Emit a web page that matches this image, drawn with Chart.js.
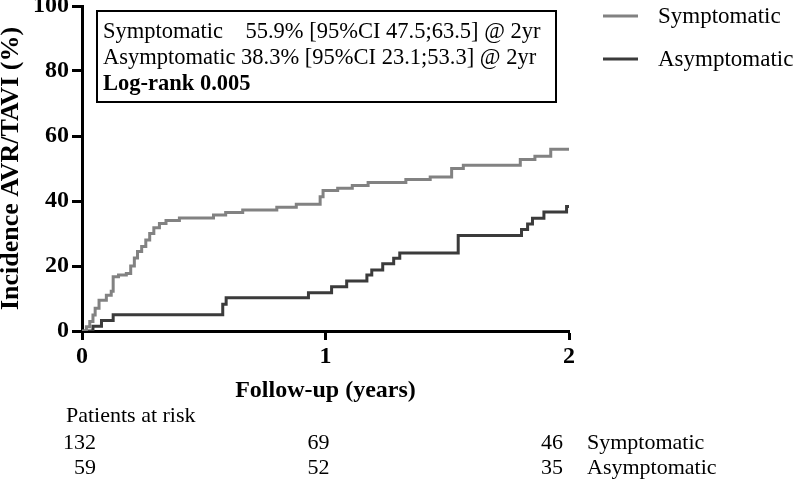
<!DOCTYPE html>
<html><head><meta charset="utf-8">
<script src="https://cdn.jsdelivr.net/npm/chart.js@4.4.0/dist/chart.umd.min.js"></script>
<style>html,body{margin:0;padding:0;background:#fff}canvas{display:block}</style>
</head><body>
<canvas id="c" width="793" height="480"></canvas>
<script>
// ---- data ----
const seriesNames = ['Symptomatic', 'Asymptomatic'];
const symTimes  = [0, 0.018, 0.032, 0.045, 0.054, 0.07, 0.10, 0.12, 0.128, 0.150, 0.182, 0.20, 0.215, 0.228, 0.245, 0.262, 0.278, 0.295, 0.318, 0.345, 0.40, 0.54, 0.59, 0.66, 0.80, 0.88, 0.978, 0.99, 1.05, 1.11, 1.175, 1.33, 1.43, 1.518, 1.566, 1.80, 1.86, 1.925, 2.0];
const symValues = [0, 1.3, 2.9, 4.9, 7.0, 9.5, 11.0, 12.2, 16.7, 17.2, 17.7, 20.0, 22.5, 24.5, 26.0, 28.0, 30.0, 31.8, 33.1, 34.0, 34.8, 35.7, 36.5, 37.2, 38.1, 39.0, 41.3, 43.2, 43.9, 44.8, 45.7, 46.6, 47.4, 50.0, 51.0, 52.8, 53.8, 55.9, 55.9];
const asymTimes  = [0, 0.045, 0.08, 0.128, 0.578, 0.592, 0.93, 1.025, 1.087, 1.17, 1.19, 1.235, 1.28, 1.305, 1.545, 1.805, 1.83, 1.85, 1.897, 1.99, 2.0];
const asymValues = [0, 1.5, 3.2, 5.0, 8.2, 10.2, 11.8, 13.6, 15.4, 17.2, 18.8, 20.7, 22.4, 24.0, 29.4, 31.2, 32.9, 34.7, 36.6, 38.3, 38.3];
const xTicks = [0, 1, 2];
const yTicks = [0, 20, 40, 60, 80, 100];
const atRiskTimes = [0, 1, 2];
const atRiskSym  = [132, 69, 46];
const atRiskAsym = [59, 52, 35];
const summaryLines = ['Symptomatic    55.9% [95%CI 47.5;63.5] @ 2yr', 'Asymptomatic 38.3% [95%CI 23.1;53.3] @ 2yr'];
const logRankText = 'Log-rank 0.005';
const atRiskTitle = 'Patients at risk';
const xTitle = 'Follow-up (years)';
const yTitle = 'Incidence AVR/TAVI (%)';

// ---- styles ----
const SERIF = "'Liberation Serif', 'Times New Roman', serif";
const colors = ['#828282', '#3b3b3b'];

const toPts = (ts, vs) => ts.map((t, i) => ({x: t, y: vs[i]}));

const overlay = {
  id: 'overlay',
  afterDraw(chart) {
    const ctx = chart.ctx;
    const xs = chart.scales.x;
    ctx.save();
    // summary box
    ctx.strokeStyle = '#000';
    ctx.lineWidth = 2;
    ctx.strokeRect(97, 11, 459, 91);
    ctx.fillStyle = '#000';
    ctx.textAlign = 'left';
    ctx.textBaseline = 'alphabetic';
    ctx.font = '22.5px ' + SERIF;
    ctx.fillText(summaryLines[0], 103, 38);
    ctx.fillText(summaryLines[1], 103, 64);
    ctx.font = 'bold 22.5px ' + SERIF;
    ctx.fillText(logRankText, 103, 90);

    // legend
    chart.data.datasets.forEach((ds, i) => {
      const y = 16 + i * 43;
      ctx.strokeStyle = ds.borderColor;
      ctx.lineWidth = 3;
      ctx.beginPath();
      ctx.moveTo(603, y);
      ctx.lineTo(638, y);
      ctx.stroke();
      ctx.fillStyle = '#000';
      ctx.font = '23px ' + SERIF;
      ctx.textAlign = 'left';
      ctx.fillText(ds.label, 658, y + 7);
    });

    // patients at risk
    ctx.fillStyle = '#000';
    ctx.font = '22px ' + SERIF;
    ctx.textAlign = 'left';
    ctx.fillText(atRiskTitle, 66, 422);
    const offs = [14, 4, -6];
    const rows = [atRiskSym, atRiskAsym];
    rows.forEach((row, r) => {
      const yb = 449 + r * 25;
      ctx.textAlign = 'right';
      atRiskTimes.forEach((t, i) => {
        ctx.fillText(String(row[i]), xs.getPixelForValue(t) + offs[i], yb);
      });
      ctx.textAlign = 'left';
      ctx.fillText(seriesNames[r], xs.getPixelForValue(atRiskTimes[atRiskTimes.length - 1]) + 18, yb);
    });
    ctx.restore();
  }
};

new Chart(document.getElementById('c'), {
  type: 'scatter',
  data: {
    datasets: [
      {label: seriesNames[0], data: toPts(symTimes, symValues), showLine: true, stepped: true,
       borderColor: colors[0], backgroundColor: colors[0], borderWidth: 3, pointRadius: 0, fill: false},
      {label: seriesNames[1], data: toPts(asymTimes, asymValues), showLine: true, stepped: true,
       borderColor: colors[1], backgroundColor: colors[1], borderWidth: 3, pointRadius: 0, fill: false}
    ]
  },
  options: {
    responsive: false,
    animation: false,
    devicePixelRatio: 1,
    layout: {padding: {left: 0, top: 6, right: 224, bottom: 0}},
    plugins: {legend: {display: false}, tooltip: {enabled: false}},
    scales: {
      x: {
        type: 'linear', min: 0, max: 2,
        afterBuildTicks: s => { s.ticks = xTicks.map(v => ({value: v})); },
        afterFit: s => { s.height = 149; s.paddingLeft = 0; s.paddingRight = 0; },
        grid: {drawOnChartArea: false, drawTicks: true, tickLength: 9, tickWidth: 3, tickColor: '#000'},
        border: {display: true, color: '#000', width: 3},
        ticks: {color: '#000', padding: 2, font: {family: SERIF, size: 24, weight: 'bold'}, maxRotation: 0},
        title: {display: true, text: xTitle, color: '#000', font: {family: SERIF, size: 24, weight: 'bold', lineHeight: 1.2}, padding: {top: 0, bottom: 75}}
      },
      y: {
        type: 'linear', min: 0, max: 100,
        afterBuildTicks: s => { s.ticks = yTicks.map(v => ({value: v})); },
        afterFit: s => { s.width = 82; s.paddingTop = 0; s.paddingBottom = 0; },
        grid: {drawOnChartArea: false, drawTicks: true, tickLength: 10, tickWidth: 3, tickColor: '#000'},
        border: {display: true, color: '#000', width: 3},
        ticks: {color: '#000', padding: 3, font: {family: SERIF, size: 24, weight: 'bold'}},
        title: {display: true, text: yTitle, color: '#000', font: {family: SERIF, size: 26, weight: 'bold', lineHeight: 0.9}, padding: {top: 0, bottom: 0}}
      }
    }
  },
  plugins: [overlay]
});
</script>
</body></html>
